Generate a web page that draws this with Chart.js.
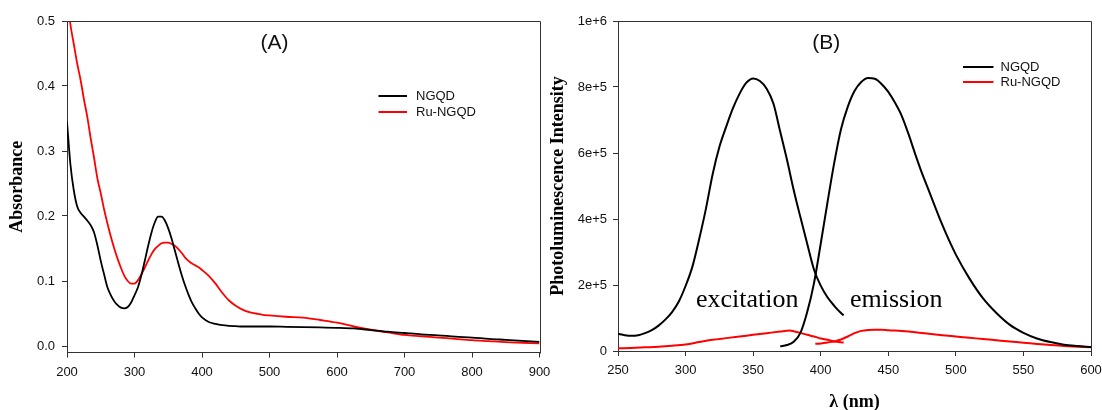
<!DOCTYPE html>
<html><head><meta charset="utf-8">
<script src="https://cdn.jsdelivr.net/npm/chart.js@4/dist/chart.umd.min.js"></script>
<style>
html,body{margin:0;padding:0;background:#fff;width:1102px;height:410px;overflow:hidden;position:relative;}
#a{position:absolute;left:0;top:0;}
#b{position:absolute;left:545px;top:0;}
</style></head><body>
<canvas id="a" width="560" height="410"></canvas>
<canvas id="b" width="580" height="410"></canvas>
<script>
// ---------- Panel A data (absorbance) ----------
const wavelengthA = [200,205,210,215,220,225,230,235,240,245,250,255,260,265,270,275,280,285,290,295,300,305,310,315,320,325,330,335,340,345,350,355,360,365,370,375,380,385,390,395,400,410,420,430,440,450,460,470,480,490,500,525,550,575,600,625,650,675,700,725,750,775,800,825,850,875,900];
const absNGQD = [0.345,0.28,0.24,0.215,0.205,0.199,0.193,0.186,0.175,0.155,0.131,0.11,0.09,0.078,0.069,0.063,0.059,0.058,0.060,0.067,0.078,0.090,0.108,0.130,0.153,0.174,0.190,0.199,0.199,0.193,0.181,0.165,0.146,0.127,0.109,0.093,0.079,0.067,0.058,0.050,0.044,0.037,0.034,0.032,0.031,0.0305,0.030,0.030,0.030,0.030,0.030,0.0295,0.029,0.0285,0.028,0.027,0.0245,0.022,0.020,0.018,0.0165,0.0145,0.013,0.011,0.0095,0.008,0.0065];
const absRuNGQD = [0.54,0.495,0.465,0.435,0.41,0.38,0.353,0.32,0.29,0.258,0.235,0.21,0.188,0.168,0.15,0.134,0.12,0.108,0.1,0.096,0.096,0.101,0.11,0.12,0.131,0.141,0.149,0.154,0.158,0.159,0.159,0.157,0.154,0.149,0.143,0.136,0.131,0.127,0.124,0.121,0.117,0.108,0.096,0.082,0.07,0.062,0.056,0.052,0.05,0.048,0.047,0.045,0.0435,0.04,0.036,0.03,0.025,0.021,0.017,0.015,0.013,0.011,0.009,0.0075,0.006,0.005,0.004];
const xTicksA = [200,300,400,500,600,700,800,900];
const xTickLabelsA = ['200','300','400','500','600','700','800','900'];
const yTicksA = [0,0.1,0.2,0.3,0.4,0.5];
const yTickLabelsA = ['0.0','0.1','0.2','0.3','0.4','0.5'];

// ---------- Panel B data (photoluminescence) ----------
const exWavelengthNGQD = [250,255,260,265,270,275,280,285,290,295,300,305,310,315,320,325,330,335,340,345,350,355,360,365,370,375,380,385,390,395,400,405,410,415,417];
const exNGQD = [52000,48000,46000,48000,54000,63000,77000,95000,118000,150000,197000,255000,338000,430000,535000,618000,679000,735000,780000,813000,826000,818000,795000,750000,665000,580000,488000,405000,325000,247000,198000,163000,137000,115000,108000];
const emWavelengthNGQD = [370,375,380,385,390,395,400,405,410,415,420,425,430,435,440,445,450,455,460,465,470,475,480,485,490,495,500,510,520,530,540,550,560,570,580,590,600];
const emNGQD = [14000,18000,28000,55000,118000,205000,325000,450000,570000,672000,740000,788000,815000,827000,825000,809000,785000,752000,712000,657000,596000,538000,486000,433000,382000,335000,292000,220000,160000,115000,79000,55000,38000,27000,19000,15000,12000];
const exWavelengthRu = [250,260,270,280,290,300,310,320,330,340,350,360,370,377,380,385,390,395,400,405,410,417];
const exRuNGQD = [8000,9000,11000,13000,16000,20000,27000,34000,39000,44000,49000,54000,59000,62000,60000,55000,49000,44000,38000,34000,29000,26000];
const emWavelengthRu = [396,400,405,410,415,420,425,430,435,440,445,450,460,470,480,490,500,510,520,530,540,550,560,570,580,590,600];
const emRuNGQD = [22000,23000,26000,29000,35000,44000,54000,61000,64000,64500,64500,63000,60500,57000,52500,48000,44000,40000,36500,32500,28500,25000,21500,18000,15000,13000,11000];
const xTicksB = [250,300,350,400,450,500,550,600];
const xTickLabelsB = ['250','300','350','400','450','500','550','600'];
const yTicksB = [0,200000,400000,600000,800000,1000000];
const yTickLabelsB = ['0','2e+5','4e+5','6e+5','8e+5','1e+6'];

const seriesNames = ['NGQD','Ru-NGQD'];
const seriesColors = ['#000000','#ff0000'];

const AX = '#333333';
const tickFont = {family:'Liberation Sans, Arial, sans-serif', size:13};
const titleFont = {family:'Liberation Serif, Times New Roman, serif', size:18, weight:'bold', lineHeight:1};

function pts(xs, ys){ return xs.map((x,i)=>({x:x, y:ys[i]})); }
function fixedTicks(values){ return function(scale){ scale.ticks = values.map(v=>({value:v})); }; }
function labelFrom(values, labels){ return function(v){ const i = values.findIndex(t=>Math.abs(t-v)<1e-9); return i>=0 ? labels[i] : ''; }; }

function framePlugin(opts){
  return {
    id:'frame'+opts.id,
    afterDraw(chart){
      const {ctx, chartArea:a} = chart;
      ctx.save();
      ctx.strokeStyle = AX; ctx.lineWidth = 1;
      ctx.beginPath();
      ctx.moveTo(Math.round(a.left)+0.5, Math.round(a.top)+0.5);
      ctx.lineTo(Math.round(a.right)+0.5, Math.round(a.top)+0.5);
      ctx.lineTo(Math.round(a.right)+0.5, Math.round(a.bottom)+0.5);
      ctx.stroke();
      // legend
      ctx.font = '13px Liberation Sans, Arial, sans-serif';
      ctx.textBaseline = 'middle'; ctx.textAlign = 'left';
      seriesNames.forEach((n,i)=>{
        const y = opts.legY[i];
        ctx.strokeStyle = seriesColors[i]; ctx.lineWidth = 2;
        ctx.beginPath(); ctx.moveTo(opts.legX0, y); ctx.lineTo(opts.legX1, y); ctx.stroke();
        ctx.fillStyle = '#111';
        ctx.fillText(n, opts.legTx, y+0.5);
      });
      // panel label
      ctx.font = '21px Liberation Sans, Arial, sans-serif';
      ctx.textAlign = 'center'; ctx.fillStyle = '#111';
      ctx.fillText(opts.label, opts.labelX, opts.labelY);
      if (opts.notes){
        ctx.font = '26px Liberation Serif, Times New Roman, serif';
        ctx.textAlign = 'left'; ctx.textBaseline = 'alphabetic'; ctx.fillStyle = '#000';
        opts.notes.forEach(n=>ctx.fillText(n.text, n.x, n.y));
      }
      ctx.restore();
    }
  };
}

function axisGrid(){ return {display:true, drawOnChartArea:false, drawTicks:true, tickLength:5, color:AX, tickColor:AX, lineWidth:1}; }
function lineDs(label, data, color, w){ return {label:label, data:data, borderColor:color, borderWidth:w, pointRadius:0, cubicInterpolationMode:'monotone', fill:false}; }

// ---------- Chart A ----------
new Chart(document.getElementById('a'), {
  type:'line',
  data:{ datasets:[
    lineDs(seriesNames[0], pts(wavelengthA, absNGQD), seriesColors[0], 1.8),
    lineDs(seriesNames[1], pts(wavelengthA, absRuNGQD), seriesColors[1], 1.8)
  ]},
  options:{
    responsive:false, animation:false, devicePixelRatio:1,
    layout:{padding:{top:21, right:20.5, left:0, bottom:0}},
    plugins:{legend:{display:false}, tooltip:{enabled:false}},
    scales:{
      x:{type:'linear', min:200, max:900, afterBuildTicks:fixedTicks(xTicksA), afterFit:s=>{s.height=57.5;},
         grid:axisGrid(), border:{display:true,color:AX,width:1},
         ticks:{font:tickFont, color:'#111', padding:7, maxRotation:0, callback:labelFrom(xTicksA,xTickLabelsA)}},
      y:{type:'linear', min:-0.01, max:0.5, afterBuildTicks:fixedTicks(yTicksA), afterFit:s=>{s.width=67;},
         grid:axisGrid(), border:{display:true,color:AX,width:1},
         ticks:{font:tickFont, color:'#111', padding:7, callback:labelFrom(yTicksA,yTickLabelsA)},
         title:{display:true, text:'Absorbance', font:titleFont, color:'#000', padding:{top:8,bottom:0}}}
    }
  },
  plugins:[framePlugin({id:'A', legY:[96,112], legX0:378.5, legX1:407, legTx:416, label:'(A)', labelX:274.6, labelY:43})]
});

// ---------- Chart B ----------
new Chart(document.getElementById('b'), {
  type:'line',
  data:{ datasets:[
    lineDs(seriesNames[0], pts(exWavelengthNGQD, exNGQD), seriesColors[0], 2),
    lineDs(seriesNames[0]+' em', pts(emWavelengthNGQD, emNGQD), seriesColors[0], 2),
    lineDs(seriesNames[1], pts(exWavelengthRu, exRuNGQD), seriesColors[1], 2),
    lineDs(seriesNames[1]+' em', pts(emWavelengthRu, emRuNGQD), seriesColors[1], 2)
  ]},
  options:{
    responsive:false, animation:false, devicePixelRatio:1,
    layout:{padding:{top:21, right:34, left:0, bottom:0}},
    plugins:{legend:{display:false}, tooltip:{enabled:false}},
    scales:{
      x:{type:'linear', min:250, max:600, afterBuildTicks:fixedTicks(xTicksB), afterFit:s=>{s.height=59;},
         grid:axisGrid(), border:{display:true,color:AX,width:1},
         ticks:{font:tickFont, color:'#111', padding:7, maxRotation:0, callback:labelFrom(xTicksB,xTickLabelsB)},
         title:{display:true, text:'λ (nm)', font:titleFont, color:'#000', padding:{top:0,bottom:-1}}},
      y:{type:'linear', min:0, max:1000000, afterBuildTicks:fixedTicks(yTicksB), afterFit:s=>{s.width=73;},
         grid:axisGrid(), border:{display:true,color:AX,width:1},
         ticks:{font:tickFont, color:'#111', padding:6, callback:labelFrom(yTicksB,yTickLabelsB)},
         title:{display:true, text:'Photoluminescence Intensity', font:titleFont, color:'#000', padding:{top:4,bottom:0}}}
    }
  },
  plugins:[framePlugin({id:'B', legY:[67,82], legX0:418, legX1:448.5, legTx:455.5, label:'(B)', labelX:281.3, labelY:43,
    notes:[{text:'excitation', x:151, y:307},{text:'emission', x:305, y:307}]})]
});
</script>
</body></html>
